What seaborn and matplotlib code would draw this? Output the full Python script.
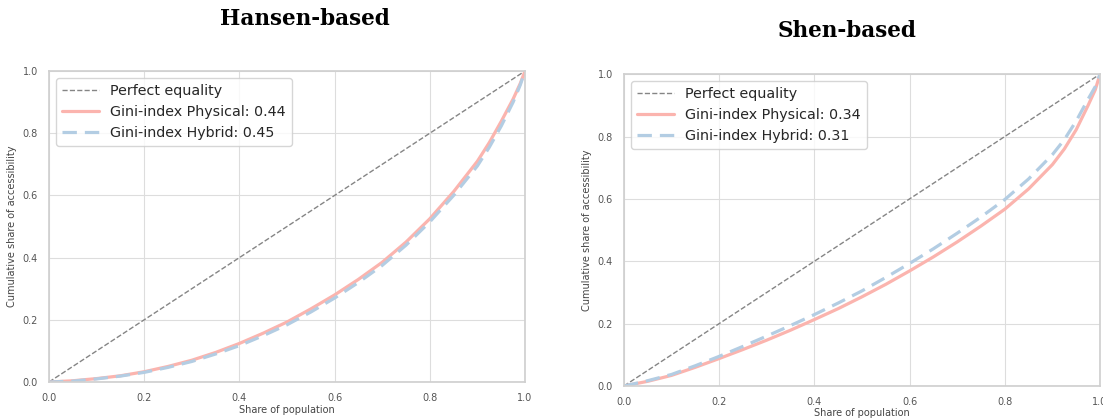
import numpy as np
import pandas as pd
import matplotlib.pyplot as plt
import seaborn as sns

# Lorenz curve points
share_pop = [0.0, 0.05, 0.1, 0.15, 0.2, 0.25, 0.3, 0.35, 0.4, 0.45, 0.5, 0.55,
             0.6, 0.65, 0.7, 0.75, 0.8, 0.85, 0.9, 0.925, 0.95, 0.975, 0.99, 1.0]

hansen_physical = [0.0, 0.004, 0.011, 0.020, 0.033, 0.050, 0.070, 0.095, 0.124, 0.157, 0.193, 0.235,
                   0.280, 0.330, 0.385, 0.450, 0.525, 0.612, 0.710, 0.770, 0.838, 0.910, 0.960, 1.0]
hansen_hybrid   = [0.0, 0.003, 0.010, 0.019, 0.031, 0.047, 0.066, 0.090, 0.117, 0.149, 0.184, 0.225,
                   0.270, 0.320, 0.375, 0.440, 0.515, 0.600, 0.695, 0.755, 0.823, 0.900, 0.955, 1.0]

shen_physical = [0.0, 0.015, 0.034, 0.060, 0.088, 0.117, 0.147, 0.179, 0.213, 0.248, 0.286, 0.326,
                 0.369, 0.414, 0.462, 0.513, 0.567, 0.632, 0.710, 0.760, 0.822, 0.900, 0.950, 1.0]
shen_hybrid   = [0.0, 0.017, 0.037, 0.065, 0.095, 0.127, 0.160, 0.194, 0.229, 0.266, 0.305, 0.348,
                 0.393, 0.440, 0.490, 0.542, 0.598, 0.664, 0.742, 0.790, 0.850, 0.920, 0.960, 1.0]

titles = ["Hansen-based", "Shen-based"]
gini_physical = [0.44, 0.34]
gini_hybrid = [0.45, 0.31]

sns.set_theme(style="whitegrid", rc={'grid.color': '#dddddd', 'grid.linewidth': 0.8,
                                     'axes.edgecolor': '#d0d0d0'})
plt.rcParams['font.family'] = ['DejaVu Sans']

fig = plt.figure(figsize=(11.03, 4.18), dpi=100)
ax1 = fig.add_axes([0.0444, 0.0861, 0.4316, 0.744])
ax2 = fig.add_axes([0.5657, 0.0766, 0.4316, 0.746])

pink = "#fbb4ae"
blue = "#b3cde3"

panels = [(ax1, hansen_physical, hansen_hybrid), (ax2, shen_physical, shen_hybrid)]

for i, (ax, phys, hyb) in enumerate(panels):
    df = pd.DataFrame({'x': share_pop, 'phys': phys, 'hyb': hyb})
    ax.plot([0, 1], [0, 1], linestyle='--', color='#858585', lw=1.0, label='Perfect equality')
    sns.lineplot(data=df, x='x', y='phys', ax=ax, color=pink, lw=2.3,
                 label=f'Gini-index Physical: {gini_physical[i]:.2f}')
    sns.lineplot(data=df, x='x', y='hyb', ax=ax, color=blue, lw=2.3, linestyle=(0, (4.5, 2.5)),
                 label=f'Gini-index Hybrid: {gini_hybrid[i]:.2f}')
    ax.set_xlim(0, 1)
    ax.set_ylim(0, 1)
    ax.set_xlabel('Share of population', fontsize=7, labelpad=1, color='#444444')
    ax.set_ylabel('Cumulative share of accessibility', fontsize=7, labelpad=4, color='#444444')
    ax.tick_params(labelsize=7, colors='#555555', pad=2)
    ax.legend(loc='upper left', fontsize=10.3, frameon=True, handlelength=2.6)

fig.text(0.276, 0.955, titles[0], ha='center', va='center', fontsize=15.5,
         fontweight='bold', family='DejaVu Serif', color='black')
fig.text(0.768, 0.925, titles[1], ha='center', va='center', fontsize=15.5,
         fontweight='bold', family='DejaVu Serif', color='black')

fig.savefig('out.png', dpi=100)
